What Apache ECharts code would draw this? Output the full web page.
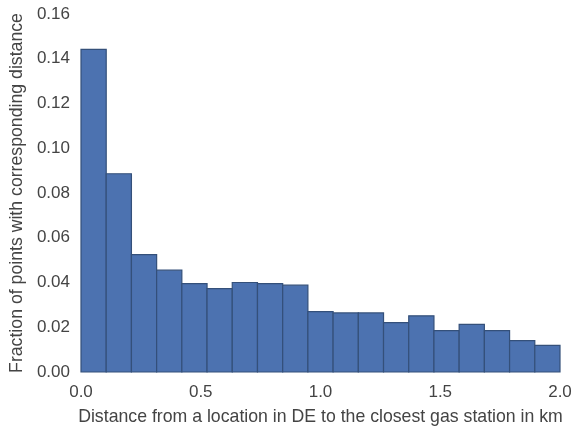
<!DOCTYPE html>
<html>
<head>
<meta charset="utf-8">
<script src="https://cdn.jsdelivr.net/npm/echarts@6/dist/echarts.min.js"></script>
<style>html,body{margin:0;padding:0;background:#fff;}#c{width:577px;height:430px;}</style>
</head>
<body>
<div id="c"></div>
<script>
// Histogram: 19 equal bins spanning 0 .. 2.0 km
var rangeMin = 0.0;
var rangeMax = 2.0;
var fractions = [0.1442, 0.0886, 0.0525, 0.0455, 0.0395, 0.0373, 0.0400, 0.0395, 0.0388, 0.0270,
                 0.0264, 0.0264, 0.0221, 0.0251, 0.0185, 0.0213, 0.0185, 0.0140, 0.0119];
var xTicks = [0.0, 0.5, 1.0, 1.5, 2.0];
var yTicks = [0.00, 0.02, 0.04, 0.06, 0.08, 0.10, 0.12, 0.14, 0.16];
var xTitle = 'Distance from a location in DE to the closest gas station in km';
var yTitle = 'Fraction of points with corresponding distance';

var binWidth = (rangeMax - rangeMin) / fractions.length;
var binData = fractions.map(function (v, i) {
  return [rangeMin + i * binWidth, rangeMin + (i + 1) * binWidth, v];
});

var chart = echarts.init(document.getElementById('c'), null, {renderer: 'canvas'});
var font = 'Liberation Sans, Arial, sans-serif';
var txt = '#444444';
chart.setOption({
  animation: false,
  backgroundColor: '#ffffff',
  grid: {left: 81, right: 17, top: 14, bottom: 58, outerBoundsMode: 'none', containLabel: false},
  xAxis: {
    type: 'value', min: rangeMin, max: rangeMax, interval: 0.5,
    axisLine: {show: false}, axisTick: {show: false}, splitLine: {show: false},
    axisLabel: {color: txt, fontFamily: font, fontSize: 17, margin: 12,
      formatter: function (v) { return v.toFixed(1); }},
    name: xTitle, nameLocation: 'middle', nameGap: 36,
    nameTextStyle: {color: txt, fontFamily: font, fontSize: 17.7}
  },
  yAxis: {
    type: 'value', min: 0, max: 0.16, interval: 0.02,
    axisLine: {show: false}, axisTick: {show: false}, splitLine: {show: false},
    axisLabel: {color: txt, fontFamily: font, fontSize: 17, margin: 11,
      formatter: function (v) { return v.toFixed(2); }},
    name: yTitle, nameLocation: 'middle', nameGap: 55,
    nameTextStyle: {color: txt, fontFamily: font, fontSize: 17.7}
  },
  series: [{
    type: 'custom',
    data: binData,
    renderItem: function (params, api) {
      var p0 = api.coord([api.value(0), api.value(2)]);
      var p1 = api.coord([api.value(1), 0]);
      return {
        type: 'rect',
        shape: {x: p0[0], y: p0[1], width: p1[0] - p0[0], height: p1[1] - p0[1]},
        style: {fill: '#4c72b0', stroke: '#34507a', lineWidth: 1.2}
      };
    },
    encode: {x: [0, 1], y: 2}
  }]
});
</script>
</body>
</html>
